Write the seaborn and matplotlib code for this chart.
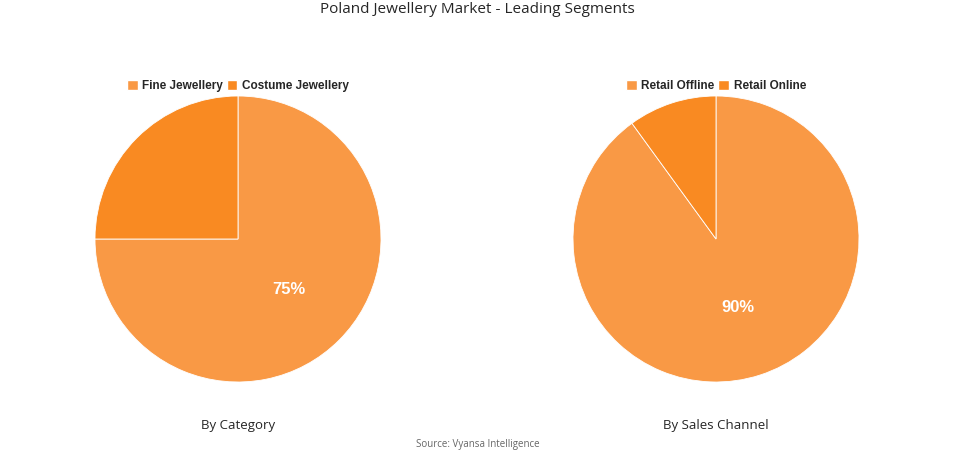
import matplotlib
matplotlib.use("Agg")
import matplotlib.pyplot as plt
import seaborn as sns
import numpy as np
from matplotlib.patches import Patch

sns.set_theme(style="white")
plt.rcParams['font.family'] = ['Open Sans', 'DejaVu Sans']

# data
cat_labels = ['Fine Jewellery', 'Costume Jewellery']
cat_values = [75, 25]
chan_labels = ['Retail Offline', 'Retail Online']
chan_values = [90, 10]
colors = ['#F99945', '#F98A22']

fig = plt.figure(figsize=(9.55, 4.54), dpi=100)
fig.text(0.5, 0.978, 'Poland Jewellery Market - Leading Segments', ha='center', va='center',
         fontsize=11, fontweight='medium')

def draw_pie(left, labels, values, subtitle):
    w = 286 / 955
    h = 286 / 454
    ax = fig.add_axes([left, 72 / 454, w, h])
    wedges, _ = ax.pie(values, colors=colors, startangle=90, counterclock=False,
                       wedgeprops=dict(edgecolor='white', linewidth=0.6))
    ax.set_xlim(-1, 1)
    ax.set_ylim(-1, 1)
    ax.set_aspect('equal')
    # label only the leading slice
    frac = values[0] / sum(values)
    ang = np.deg2rad(90 - 360 * frac / 2)
    ax.text(0.5 * np.cos(ang), 0.5 * np.sin(ang), f'{values[0]}%', ha='center', va='center',
            color='white', fontsize=12, fontweight='bold', family=['Liberation Sans', 'DejaVu Sans'])
    handles = [Patch(facecolor=c, label=l) for c, l in zip(colors, labels)]
    cx = left + w / 2
    fig.legend(handles=handles, loc='center', bbox_to_anchor=(cx, 1 - 86 / 454), ncol=2,
               frameon=False, handlelength=0.9, handleheight=0.9, columnspacing=0.3,
               handletextpad=0.4, prop=dict(family=['Liberation Sans'], weight='bold', size=8.5))
    fig.text(cx, 1 - 425 / 454, subtitle, ha='center', va='center', fontsize=9.5)

draw_pie(95 / 955, cat_labels, cat_values, 'By Category')
draw_pie(573 / 955, chan_labels, chan_values, 'By Sales Channel')

fig.text(0.5, 1 - 444 / 454, 'Source: Vyansa Intelligence', ha='center', va='center', fontsize=7, color='#666666')

fig.savefig('out.png', dpi=100)
